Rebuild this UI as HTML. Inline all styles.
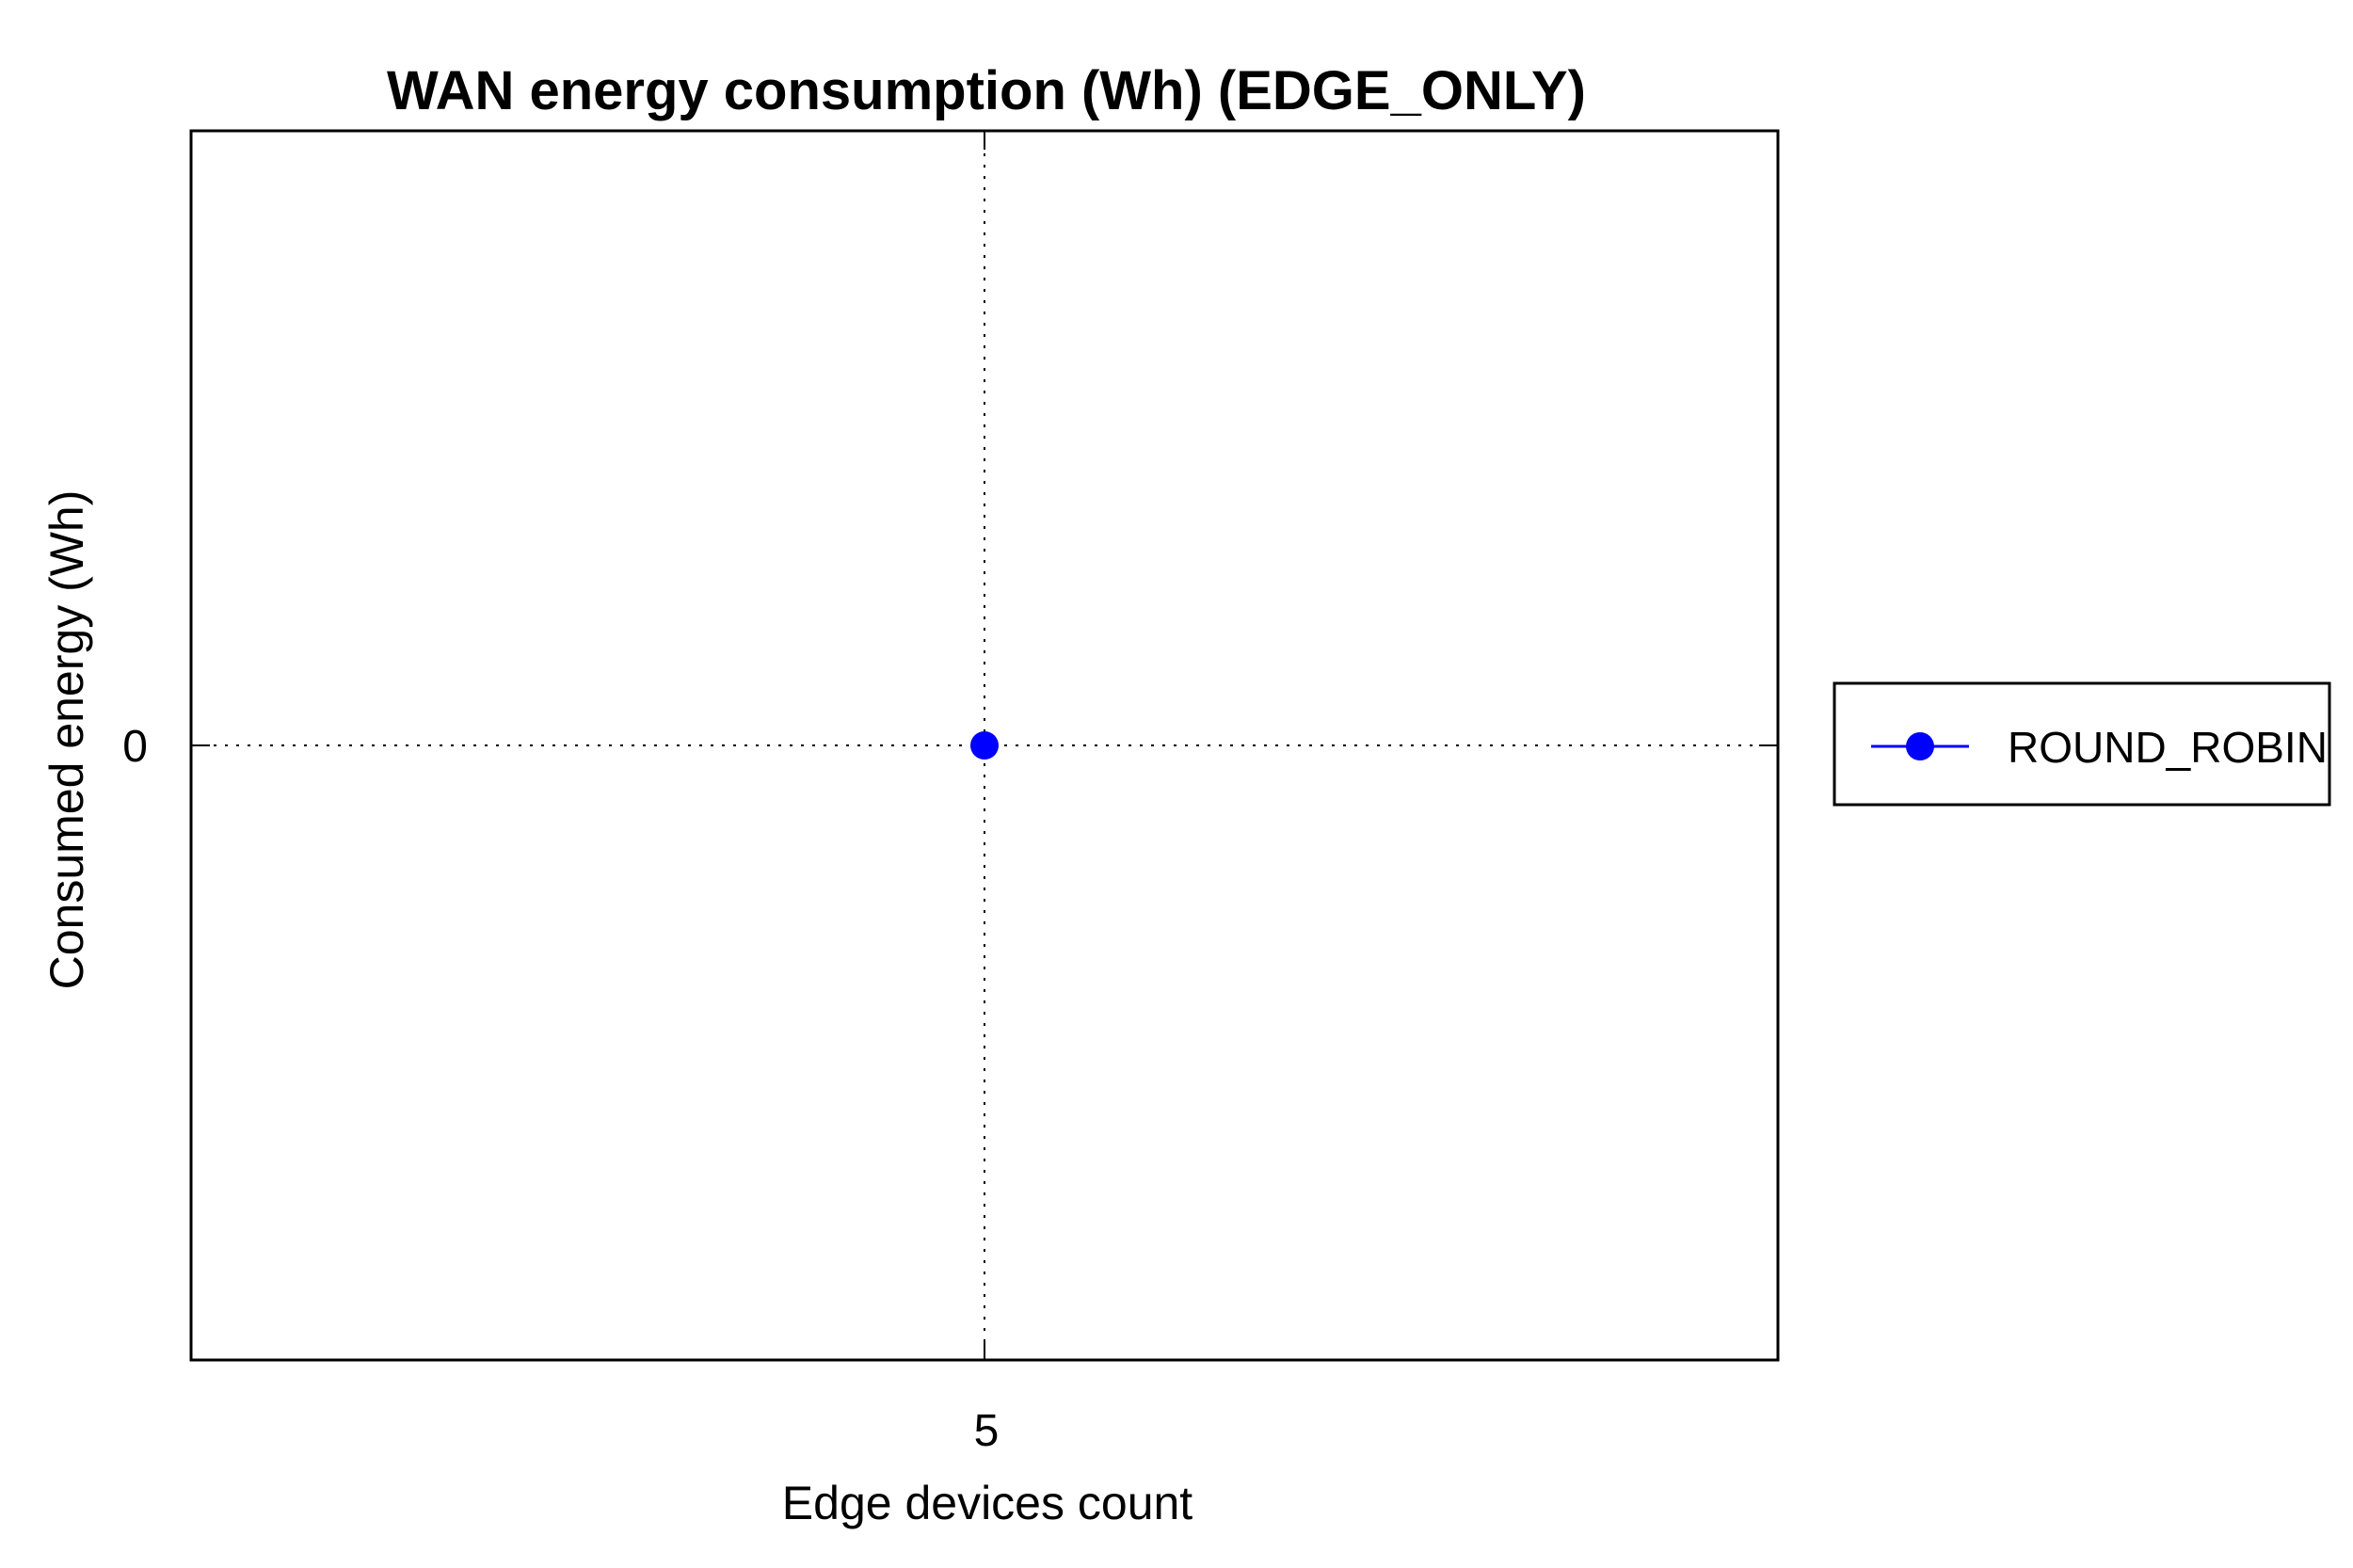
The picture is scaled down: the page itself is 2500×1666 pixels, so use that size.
<!DOCTYPE html>
<html><head><meta charset="utf-8"><style>
html,body{margin:0;padding:0;background:#fff;}
svg{display:block;font-family:"Liberation Sans",Arial,sans-serif;}
</style></head><body>
<svg id="chart" width="2500" height="1666" viewBox="0 0 2500 1666">
<text x="1048" y="116" font-size="58" font-weight="bold" text-anchor="middle">WAN energy consumption (Wh) (EDGE_ONLY)</text>
<g id="grid"></g>
<rect x="203" y="139" width="1686" height="1306" fill="none" stroke="#000" stroke-width="3"/>
<g id="ticks"></g>
<g id="marks"></g>
<text x="1049" y="1614" font-size="50" text-anchor="middle">Edge devices count</text>
<text transform="translate(88,786) rotate(-90)" font-size="50" text-anchor="middle">Consumed energy (Wh)</text>
<g>
<rect x="1949" y="726" width="526" height="129" fill="#fff" stroke="#000" stroke-width="3"/>
<line x1="1988" y1="793" x2="2092" y2="793" stroke="#0000ff" stroke-width="3"/>
<circle cx="2040" cy="793" r="15" fill="#0000ff"/>
<text x="2133" y="810" font-size="46">ROUND_ROBIN</text>
</g>
</svg>
<script>
const categories = [5];
const roundRobin = [0];
const xTicks = [5];
const yTicks = [0];
const X0=203,X1=1889,Y0=1445,Y1=139;
const xMin=4,xMax=6,yMin=-1,yMax=1;
const sx=v=>X0+(v-xMin)/(xMax-xMin)*(X1-X0);
const sy=v=>Y0-(v-yMin)/(yMax-yMin)*(Y0-Y1);
const NS="http://www.w3.org/2000/svg";
const grid=document.getElementById('grid'),ticks=document.getElementById('ticks'),marks=document.getElementById('marks');
function mk(tag,attrs,parent){const e=document.createElementNS(NS,tag);for(const k in attrs)e.setAttribute(k,attrs[k]);parent.appendChild(e);return e;}
xTicks.forEach(t=>{
  const g=mk('line',{x1:sx(t),x2:sx(t),y1:Y1,y2:Y0,stroke:'#000','stroke-width':2,'stroke-dasharray':'3,9'},grid);
  
  
  mk('line',{x1:sx(t),x2:sx(t),y1:Y0,y2:Y0-20,stroke:'#000','stroke-width':2},ticks);
  mk('line',{x1:sx(t),x2:sx(t),y1:Y1,y2:Y1+20,stroke:'#000','stroke-width':2},ticks);
  const l=mk('text',{x:sx(t)+2,y:1536,'font-size':48,'text-anchor':'middle'},ticks);
  l.textContent=t;
  
  
});
yTicks.forEach(t=>{
  const g=mk('line',{x1:X0,x2:X1,y1:sy(t),y2:sy(t),stroke:'#000','stroke-width':2,'stroke-dasharray':'3,9'},grid);
  
  
  mk('line',{x1:X0,x2:X0+20,y1:sy(t),y2:sy(t),stroke:'#000','stroke-width':2},ticks);
  mk('line',{x1:X1,x2:X1-20,y1:sy(t),y2:sy(t),stroke:'#000','stroke-width':2},ticks);
  const l=mk('text',{x:157,y:sy(t)+17,'font-size':48,'text-anchor':'end'},ticks);
  l.textContent=t;
  
  
});
if(categories.length>1){
  const p=mk('polyline',{points:categories.map((c,i)=>sx(c)+','+sy(roundRobin[i])).join(' '),fill:'none',stroke:'#0000ff','stroke-width':3},marks);
  
  
}
categories.forEach((c,i)=>{
  const p=mk('circle',{cx:sx(c),cy:sy(roundRobin[i]),r:15,fill:'#0000ff'},marks);
  
  
});
</script>
</body></html>
